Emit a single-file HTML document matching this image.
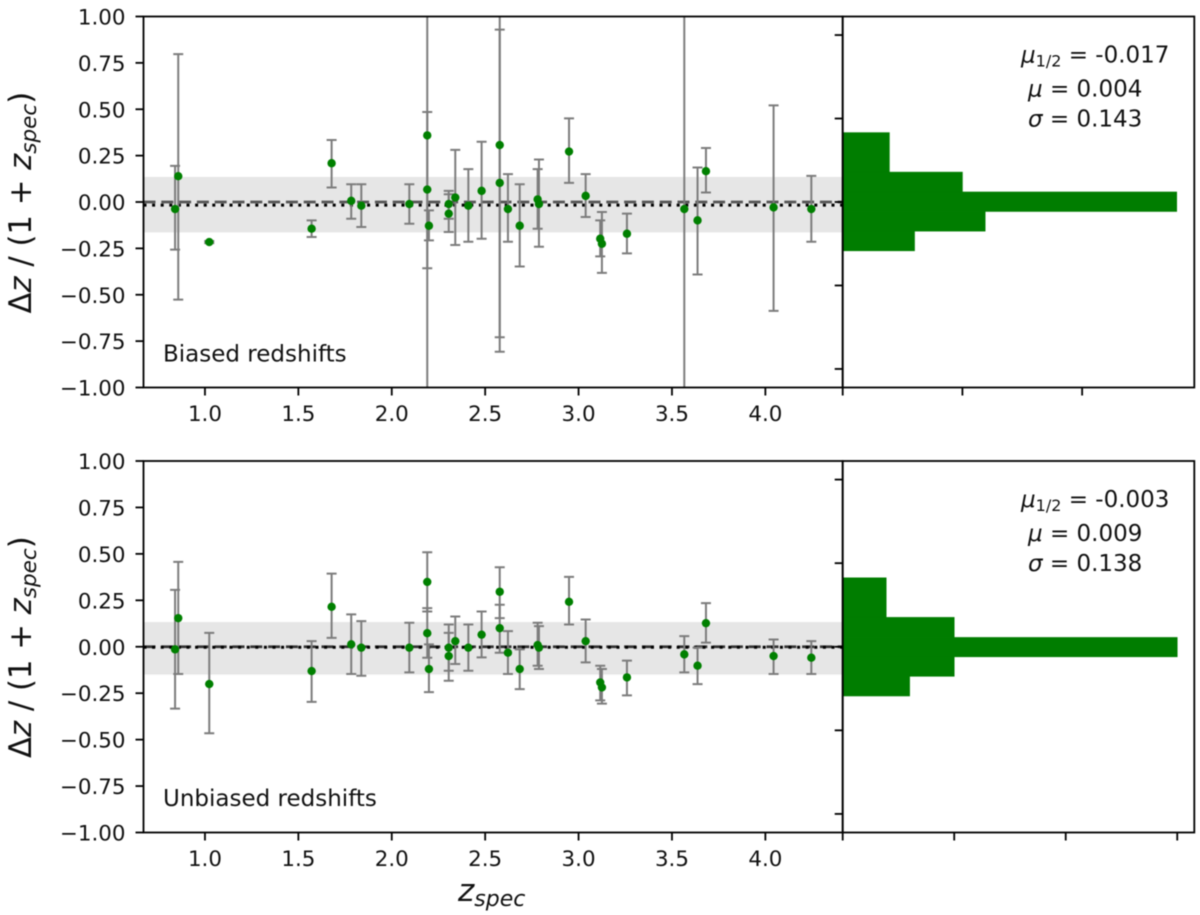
<!DOCTYPE html>
<html>
<head>
<meta charset="utf-8">
<title>Redshift residuals</title>
<style>
html,body{margin:0;padding:0;background:#fff;}
svg{display:block;filter:blur(0.5px);}
text{font-family:"DejaVu Sans","Liberation Sans",sans-serif;fill:#111;}
</style>
</head>
<body>
<svg id="figure" xmlns="http://www.w3.org/2000/svg" width="1200" height="915" viewBox="0 0 1200 915"></svg>
<script>
const zSpec = [0.84,0.857,1.023,1.571,1.678,1.783,1.837,2.094,2.19,2.19,2.199,2.305,2.305,2.34,2.41,2.481,2.578,2.578,2.622,2.685,2.781,2.788,2.949,3.038,3.116,3.125,3.259,3.566,3.637,3.682,4.044,4.246];

const biasedDz = [-0.038,0.139,-0.216,-0.144,0.209,0.006,-0.02,-0.011,0.359,0.067,-0.128,-0.011,-0.063,0.024,-0.02,0.06,0.307,0.103,-0.038,-0.128,0.014,-0.011,0.272,0.033,-0.198,-0.225,-0.171,-0.038,-0.099,0.166,-0.029,-0.038];
const biasedUpper = [0.195,0.797,-0.21,-0.099,0.334,0.096,0.096,0.096,0.485,1.3,-0.045,0.06,0.042,0.281,0.177,0.325,0.929,1.02,0.15,0.096,0.177,0.229,0.451,0.15,-0.099,-0.054,-0.063,1.3,0.186,0.291,0.521,0.141];
const biasedLower = [-0.257,-0.526,-0.222,-0.189,0.078,-0.09,-0.135,-0.117,-0.357,-1.3,-0.207,-0.09,-0.162,-0.232,-0.214,-0.198,-0.729,-0.807,-0.214,-0.348,-0.144,-0.241,0.103,-0.081,-0.293,-0.382,-0.277,-1.3,-0.391,0.051,-0.587,-0.214];

const unbiasedDz = [-0.014,0.154,-0.201,-0.131,0.215,0.013,-0.005,-0.005,0.349,0.073,-0.12,-0.005,-0.05,0.03,-0.005,0.065,0.296,0.1,-0.032,-0.12,0.009,-0.005,0.242,0.03,-0.192,-0.219,-0.165,-0.041,-0.102,0.127,-0.05,-0.059];
const unbiasedUpper = [0.306,0.457,0.075,0.03,0.394,0.174,0.138,0.129,0.509,0.208,0.013,0.12,0.075,0.163,0.12,0.19,0.428,0.226,0.084,-0.014,0.129,0.111,0.376,0.147,-0.102,-0.12,-0.075,0.057,-0.005,0.235,0.039,0.03];
const unbiasedLower = [-0.333,-0.147,-0.466,-0.297,0.048,-0.147,-0.156,-0.138,0.19,-0.059,-0.244,-0.129,-0.183,-0.093,-0.129,-0.057,0.154,-0.032,-0.147,-0.228,-0.102,-0.12,0.12,-0.084,-0.289,-0.306,-0.262,-0.138,-0.201,0.022,-0.147,-0.147];

const biasedBinEdges = [0.374,0.161,0.054,-0.051,-0.157,-0.263];
const biasedHist = [0.39,1.0,2.79,1.19,0.6];
const unbiasedBinEdges = [0.371,0.158,0.05,-0.054,-0.159,-0.265];
const unbiasedHist = [0.39,1.0,3.0,1.0,0.6];

const biasedHistTicks = [0,1,2];
const unbiasedHistTicks = [0,1,2,3];

const yTickValues = [1,0.75,0.5,0.25,0,-0.25,-0.5,-0.75,-1];
const yTickLabels = ['1.00','0.75','0.50','0.25','0.00','\u22120.25','\u22120.50','\u22120.75','\u22121.00'];
const xTickValues = [1,1.5,2,2.5,3,3.5,4];
const xTickLabels = ['1.0','1.5','2.0','2.5','3.0','3.5','4.0'];
const histYTicks = [0.9,0.45,0,-0.45,-0.9];

const biasedBand = [0.135,-0.164];
const unbiasedBand = [0.133,-0.15];
const biasedMedian = -0.017;
const unbiasedMedian = -0.003;
const biasedStats = ['-0.017','0.004','0.143'];
const unbiasedStats = ['-0.003','0.009','0.138'];

const NS = 'http://www.w3.org/2000/svg';
const svg = document.getElementById('figure');
const Z_MIN = 0.671, Z_MAX = 4.414;
const LEFT = 143.5, SPLIT = 842.7, RIGHT = 1194.3;

function make(tag, parent, attrs, text) {
  const n = document.createElementNS(NS, tag);
  for (const k in attrs) n.setAttribute(k, attrs[k]);
  if (text !== undefined) n.textContent = text;
  parent.appendChild(n);
  return n;
}

function drawPanel(cfg) {
  const top = cfg.top, bottom = cfg.bottom;
  const xScale = z => LEFT + (z - Z_MIN) / (Z_MAX - Z_MIN) * (SPLIT - LEFT);
  const yScale = v => top + (1 - v) / 2 * (bottom - top);
  const histScale = v => SPLIT + v / cfg.histMax * (RIGHT - SPLIT);

  const panel = make('g', svg, {});
  
  

  const clip = make('clipPath', panel, { id: cfg.prefix + '-clip' });
  make('rect', clip, { x: LEFT, y: top, width: SPLIT - LEFT, height: bottom - top });

  const plot = make('g', panel, { 'clip-path': 'url(#' + cfg.prefix + '-clip)' });
  
  

  const band = make('rect', plot, {
    x: LEFT, y: yScale(cfg.band[0]), width: SPLIT - LEFT,
    height: yScale(cfg.band[1]) - yScale(cfg.band[0]), fill: '#e6e6e6'
  });
  
  

  const zeroLine = make('line', plot, {
    x1: LEFT, x2: SPLIT, y1: yScale(0), y2: yScale(0),
    stroke: cfg.dashColor, 'stroke-width': 2.8, 'stroke-dasharray': '12 5.8'
  });
  
  

  const medianLine = make('line', plot, {
    x1: LEFT, x2: SPLIT, y1: yScale(cfg.median), y2: yScale(cfg.median),
    stroke: '#000', 'stroke-width': 3, 'stroke-dasharray': '3 5.6'
  });
  
  

  zSpec.forEach((z, i) => {
    const x = xScale(z);
    const bar = make('g', plot, { stroke: '#7c7c7c', 'stroke-width': 2, fill: 'none' });
    
    
    make('line', bar, { x1: x, x2: x, y1: yScale(cfg.upper[i]), y2: yScale(cfg.lower[i]) });
    make('line', bar, { x1: x - 5, x2: x + 5, y1: yScale(cfg.upper[i]), y2: yScale(cfg.upper[i]) });
    make('line', bar, { x1: x - 5, x2: x + 5, y1: yScale(cfg.lower[i]), y2: yScale(cfg.lower[i]) });
  });
  zSpec.forEach((z, i) => {
    const pt = make('circle', plot, { cx: xScale(z), cy: yScale(cfg.dz[i]), r: 4.2, fill: '#008000' });
    
    
  });

  cfg.hist.forEach((v, i) => {
    const y0 = yScale(cfg.edges[i]), y1 = yScale(cfg.edges[i + 1]);
    const bar = make('rect', panel, {
      x: SPLIT, y: y0, width: histScale(v) - SPLIT, height: y1 - y0,
      fill: '#007d00', stroke: '#007d00', 'stroke-width': 0.6
    });
    
    
  });

  const frame = { stroke: '#000', 'stroke-width': 1.8, fill: 'none' };
  const mainFrame = make('rect', panel, Object.assign({ x: LEFT, y: top, width: SPLIT - LEFT, height: bottom - top }, frame));
  
  
  const histFrame = make('rect', panel, Object.assign({ x: SPLIT, y: top, width: RIGHT - SPLIT, height: bottom - top }, frame));
  
  

  yTickValues.forEach((v, i) => {
    const y = yScale(v);
    const tick = make('line', panel, { x1: LEFT - 8, x2: LEFT, y1: y, y2: y, stroke: '#000', 'stroke-width': 1.8 });
    
    
    const label = make('text', panel, { x: 125.5, y: y + 8, 'text-anchor': 'end', 'font-size': 21.4 }, yTickLabels[i]);
    
    
  });

  xTickValues.forEach((v, i) => {
    const x = xScale(v);
    const tick = make('line', panel, { x1: x, x2: x, y1: bottom, y2: bottom + 8, stroke: '#000', 'stroke-width': 1.8 });
    
    
    const label = make('text', panel, { x: x, y: bottom + 33.5, 'text-anchor': 'middle', 'font-size': 21.4 }, xTickLabels[i]);
    
    
  });

  histYTicks.forEach(v => {
    const y = yScale(v);
    const tick = make('line', panel, { x1: SPLIT - 8, x2: SPLIT, y1: y, y2: y, stroke: '#000', 'stroke-width': 1.8 });
    
    
  });

  cfg.histTicks.forEach(v => {
    const x = histScale(v);
    const tick = make('line', panel, { x1: x, x2: x, y1: bottom, y2: bottom + 8, stroke: '#000', 'stroke-width': 1.8 });
    
    
  });

  const note = make('text', panel, { x: 163, y: top + 345, 'font-size': 23 }, cfg.title);
  
  

  const med = make('text', panel, { x: 1021, y: top + 46, 'font-size': 23 });
  
  
  make('tspan', med, { 'font-style': 'italic' }, '\u03BC');
  make('tspan', med, { dy: 4, 'font-size': 16 }, '1/2');
  make('tspan', med, { dy: -4 }, ' = ' + cfg.stats[0]);

  const mean = make('text', panel, { x: 1028, y: top + 80, 'font-size': 23 });
  
  
  make('tspan', mean, { 'font-style': 'italic' }, '\u03BC');
  make('tspan', mean, {}, ' = ' + cfg.stats[1]);

  const sig = make('text', panel, { x: 1028, y: top + 110, 'font-size': 23 });
  
  
  make('tspan', sig, { 'font-style': 'italic' }, '\u03C3');
  make('tspan', sig, {}, ' = ' + cfg.stats[2]);

  const yTitle = make('text', panel, {
    transform: 'translate(31,' + (top + 297) + ') rotate(-90)', 'font-size': 30.7
  });
  
  
  make('tspan', yTitle, {}, '\u0394');
  make('tspan', yTitle, { 'font-style': 'italic' }, 'z');
  make('tspan', yTitle, {}, ' / (1 + ');
  make('tspan', yTitle, { 'font-style': 'italic' }, 'z');
  make('tspan', yTitle, { 'font-style': 'italic', 'font-size': 21.5, dy: 5 }, 'spec');
  make('tspan', yTitle, { dy: -5 }, ')');
}

drawPanel({
  prefix: 'biased', top: 16.5, bottom: 387.5, title: 'Biased redshifts',
  dz: biasedDz, upper: biasedUpper, lower: biasedLower,
  edges: biasedBinEdges, hist: biasedHist, histMax: 2.937, histTicks: biasedHistTicks,
  band: biasedBand, median: biasedMedian, stats: biasedStats, dashColor: '#555'
});
drawPanel({
  prefix: 'unbiased', top: 461, bottom: 832.5, title: 'Unbiased redshifts',
  dz: unbiasedDz, upper: unbiasedUpper, lower: unbiasedLower,
  edges: unbiasedBinEdges, hist: unbiasedHist, histMax: 3.153, histTicks: unbiasedHistTicks,
  band: unbiasedBand, median: unbiasedMedian, stats: unbiasedStats, dashColor: '#333'
});

const xTitle = make('text', svg, { x: 458, y: 901, 'font-size': 31 });


make('tspan', xTitle, { 'font-style': 'italic' }, 'z');
make('tspan', xTitle, { 'font-style': 'italic', 'font-size': 22, dy: 5 }, 'spec');
</script>
</body>
</html>
